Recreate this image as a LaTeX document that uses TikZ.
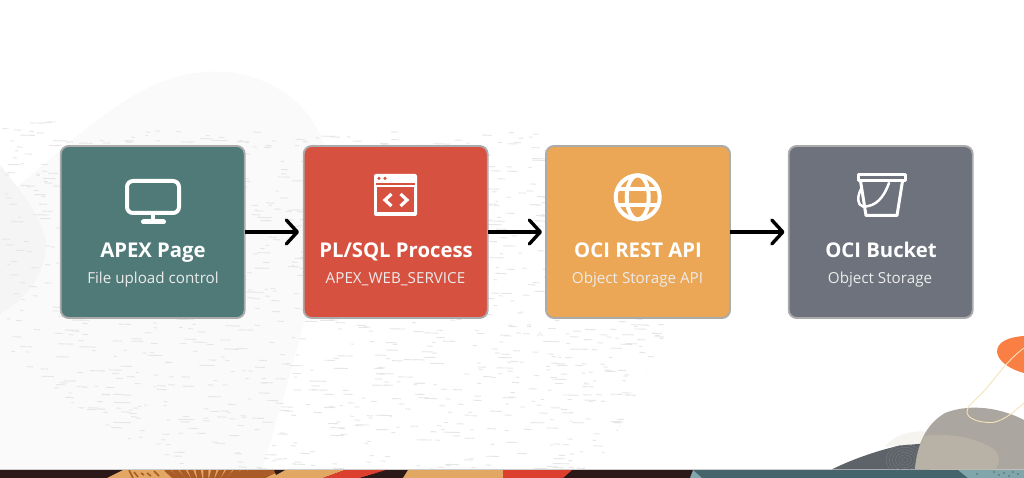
\documentclass[tikz,border=0pt]{standalone}
\usepackage{fontspec}
\setmainfont{Open Sans}
\usetikzlibrary{arrows.meta}
\definecolor{tealbox}{HTML}{4F7A77}
\definecolor{redbox}{HTML}{D75140}
\definecolor{orangebox}{HTML}{EBA755}
\definecolor{slatebox}{HTML}{6D727C}
\definecolor{boxedge}{HTML}{ABABAB}
\definecolor{blobgray}{HTML}{FAFAFA}
\definecolor{dropgray}{HTML}{F5F5F5}
\definecolor{dashgray}{HTML}{E6E6E6}
\definecolor{stripdark}{HTML}{2A1918}
\definecolor{striptan}{HTML}{E2A763}
\definecolor{stripbrown}{HTML}{A95C28}
\definecolor{stripred}{HTML}{DD3F2E}
\definecolor{stripteal}{HTML}{46646C}
\definecolor{striplight}{HTML}{80A6AC}
\definecolor{rockgray}{HTML}{ABA69F}
\definecolor{rocksand}{HTML}{B8B1A5}
\definecolor{rockdark}{HTML}{5E6269}
\definecolor{rockline}{HTML}{75777C}
\definecolor{cream}{HTML}{F6F4EF}
\definecolor{peel}{HTML}{F97F45}
\definecolor{thread}{HTML}{F6E3B9}
\tikzset{
  card/.style={draw=boxedge,line width=1.9pt,rounded corners=8pt,minimum width=184pt,minimum height=172pt,inner sep=0pt,outer sep=0pt,anchor=north west},
  headline/.style={text=white,font=\fontsize{20.3}{24}\selectfont\bfseries,inner sep=0pt,anchor=base},
  subline/.style={text=white!92!black,font=\fontsize{15.2}{18}\selectfont,inner sep=0pt,anchor=base},
  flow/.style={black,line width=3.2pt,-{Straight Barb[length=11pt,width=24pt,line width=3.4pt,round]}},
  iconline/.style={white,line width=4pt,line join=round,line cap=round},
}
\begin{document}
\begin{tikzpicture}[x=1pt,y=-1pt]
\useasboundingbox (0,0) rectangle (1024,478);
\fill[white] (0,0) rectangle (1024,478);
% background blob
\fill[blobgray] (0,200) .. controls (40,170) and (85,125) .. (130,98)
  .. controls (165,76) and (200,68) .. (235,73)
  .. controls (285,82) and (320,115) .. (328,160)
  .. controls (335,210) and (310,310) .. (262,470) -- (0,470) -- cycle;
\fill[dropgray] (0,165) .. controls (20,190) and (40,215) .. (46,240)
  .. controls (47,275) and (25,300) .. (0,314) -- cycle;
% speckled dashes
\begin{scope}
\clip (0,118) -- (60,122) -- (120,130) -- (300,131) -- (530,127) -- (610,200) -- (660,300) -- (665,335) -- (630,410) -- (595,469) -- (170,469) -- (125,440) -- (60,395) -- (0,355) -- cycle;
\pgfmathsetseed{4711}
\foreach \k in {1,...,1350}{
  \pgfmathsetmacro\dx{rnd*670}
  \pgfmathsetmacro\dy{115+rnd*355}
  \pgfmathsetmacro\dl{3+rnd*rnd*16}
  \draw[dashgray,line width=.9pt] (\dx,\dy) -- ++(\dl,0.3);
}
\end{scope}
% bottom strip
\fill[stripdark] (0,470) rectangle (1024,478);
\fill[striptan] (107,478) -- (123,470) -- (275,470) -- (275,478) -- cycle;
\begin{scope}
\clip (160,470) rectangle (275,478);
\foreach \sx in {166,174,...,278}{
  \pgfmathsetmacro\ex{205+(\sx-205)*0.72}
  \draw[stripbrown,line width=5pt] (\sx,469) -- (\ex,479);
}
\end{scope}
\foreach \sx/\sy/\ex/\ey in {129/470/133/478,134/472/138/477,141/473/144/475,147/473/151/476,154/471/159/476}{
  \draw[stripbrown,line width=1.6pt] (\sx,\sy) -- (\ex,\ey);
}
\fill[striptan] (275,478) -- (275,470) -- (345,470) -- (323,478) -- cycle;
\fill[stripdark] (274,470) -- (285,470) -- (276,475) -- cycle;
\fill[stripred] (323,478) -- (345,470) -- (388,470) -- (360,478) -- cycle;
\fill[stripdark] (360,478) -- (386,470) -- (408,470) -- (403,478) -- cycle;
\fill[striptan] (403,478) -- (408,470) -- (503,470) -- (503,478) -- cycle;
\fill[stripred] (503,470) -- (572,470) -- (563,478) -- (503,478) -- cycle;
\fill[stripteal] (693,470) -- (1024,470) -- (1024,478) -- (702,478) -- cycle;
\fill[striplight] (690,478) -- (693,470) -- (702,478) -- cycle;
\fill[striplight] (958,470) -- (1024,470) -- (1024,478) -- (968,478) -- cycle;
\foreach \sx/\sy in {994/472,999/475,1004/473,1009/476,1013/472,1018/474,977/474}{
  \fill[stripdark] (\sx,\sy) circle (.7pt);
}
\draw[boxedge!60,line width=.6pt] (0,469.6) -- (1024,469.6);
% rocks
\fill[cream] (885,447) .. controls (890,438) and (908,429) .. (930,432) -- (930,445) -- (900,445.5) -- cycle;
\fill[rockdark] (832,469.3) .. controls (855,458) and (880,450) .. (900,445.5) -- (930,443) -- (930,469.3) -- cycle;
\begin{scope}
\clip (832,469.3) .. controls (855,458) and (880,450) .. (900,445.5) -- (930,443) -- (930,469.3) -- cycle;
\foreach \r in {3,6,...,18}{\draw[rockline,line width=.5pt] (905,460) ellipse ({\r*1.05} and {\r*.85});}
\end{scope}
\fill[rockgray] (915,469.3) .. controls (917,445) and (925,425) .. (945,413)
  .. controls (965,405) and (995,405) .. (1024,420) -- (1024,469.3) -- cycle;
\fill[rocksand] (915,469.3) .. controls (916,458) and (919,447) .. (924,436)
  .. controls (945,433) and (975,436) .. (995,450)
  .. controls (1000,456) and (1000,462) .. (996,469.3) -- cycle;
\fill[peel] (1024,336) .. controls (1008,337) and (997,342) .. (997,352)
  .. controls (998,362) and (1012,370) .. (1024,373) -- cycle;
\draw[thread,line width=.9pt] (1024,348) .. controls (1010,358) and (1000,372) .. (985,390)
  .. controls (976,400) and (966,406) .. (967,413)
  .. controls (969,420) and (982,423) .. (993,422.5)
  .. controls (1005,420) and (1015,411) .. (1024,403);
% cards
\node[card,fill=tealbox] (page) at (60.7,146) {};
\node[card,fill=redbox] (proc) at (303.7,146) {};
\node[card,fill=orangebox] (rest) at (546,146) {};
\node[card,fill=slatebox] (bucket) at (788.7,146) {};
% connectors
\coordinate (tipa) at (299,232);
\coordinate (tipb) at (542,232);
\coordinate (tipc) at (784.5,232);
\draw[flow] (page.east) -- (tipa);
\draw[flow] (proc.east) -- (tipb);
\draw[flow] (rest.east) -- (tipc);
% labels
\node[headline] (pagehead) at (153,257.5) {APEX Page};
\node[subline] (pagesub) at (153,283.3) {File upload control};
\node[headline] (prochead) at (396,257.5) {PL/SQL Process};
\node[subline] (procsub) at (395.5,283.3) {APEX\_WEB\_SERVICE};
\node[headline] (resthead) at (638,257.5) {OCI REST API};
\node[subline] (restsub) at (637.5,283.3) {Object Storage API};
\node[headline] (buckethead) at (881,257.5) {OCI Bucket};
\node[subline] (bucketsub) at (880,283.3) {Object Storage};
% monitor icon
\draw[iconline,rounded corners=6pt] (127,181) rectangle (179,213);
\draw[iconline] (153,213) -- (153,222);
\draw[white,line width=5pt,line cap=round] (143.5,222) -- (163.5,222);
% code window icon
\fill[white,rounded corners=2pt] (374,174) rectangle (417,216);
\fill[redbox] (376,183.3) rectangle (415,185);
\fill[redbox] (377.3,187.3) rectangle (413.7,212.5);
\fill[redbox] (379,178.4) circle (1.8pt);
\fill[redbox] (385,178.4) circle (1.8pt);
\draw[white,line width=3.2pt,line join=miter] (391.5,194) -- (385,200) -- (391.5,206);
\draw[white,line width=3.2pt,line join=miter] (400.5,194) -- (407,200) -- (400.5,206);
% globe icon
\draw[white,line width=4pt] (637.7,197.3) circle (22pt);
\draw[white,line width=4pt] (637.7,197.3) ellipse (11pt and 22pt);
\draw[white,line width=4pt] (617,189.5) -- (658.4,189.5);
\draw[white,line width=4pt] (617,205.1) -- (658.4,205.1);
% bucket icon
\draw[white,line width=3pt,line join=round] (858.5,175) rectangle (905,181);
\draw[white,line width=3pt,line join=round] (860.5,181) -- (866,215.5) -- (897,215.5) -- (902.5,181);
\draw[white,line width=2.5pt,line cap=round] (889,183) .. controls (884,197) and (876,207) .. (863,206.5)
  .. controls (857,205) and (857,197) .. (861,189);
\end{tikzpicture}
\end{document}
